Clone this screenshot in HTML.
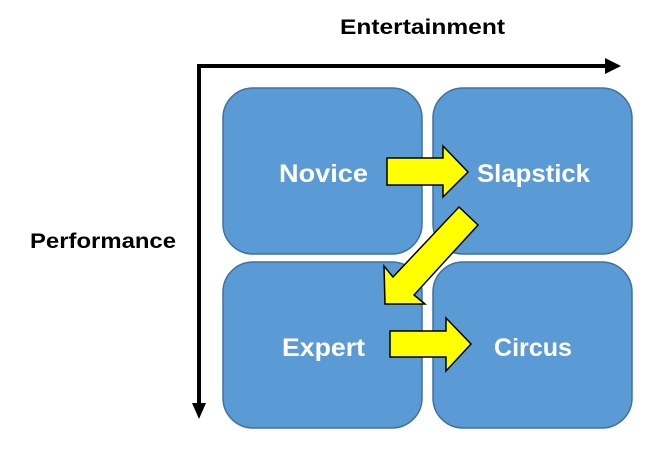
<!DOCTYPE html>
<html><head><style>
body{margin:0;width:665px;height:460px;background:#fff;overflow:hidden}
</style></head><body>
<svg width="665" height="460" xmlns="http://www.w3.org/2000/svg" font-family="'Liberation Sans', sans-serif" font-weight="bold">
<text x="340" y="34" font-size="21" textLength="165" lengthAdjust="spacingAndGlyphs" fill="#000">Entertainment</text>
<text x="30" y="248" font-size="21" textLength="146" lengthAdjust="spacingAndGlyphs" fill="#000">Performance</text>
<line x1="197" y1="66" x2="607" y2="66" stroke="#000" stroke-width="4"/>
<polygon points="605,58 621,66 605,74" fill="#000"/>
<line x1="199" y1="64" x2="199" y2="405" stroke="#000" stroke-width="4"/>
<polygon points="192,403 199,419 206,403" fill="#000"/>
<g fill="#5b9bd5" stroke="#41719c" stroke-width="1.5">
<rect x="223" y="88" width="199" height="166" rx="30"/>
<rect x="433" y="88" width="199" height="166" rx="30"/>
<rect x="223" y="262" width="199" height="166" rx="30"/>
<rect x="433" y="262" width="199" height="166" rx="30"/>
</g>
<g fill="#fff" font-size="25">
<text x="279" y="182" textLength="89" lengthAdjust="spacingAndGlyphs">Novice</text>
<text x="477" y="182" textLength="113" lengthAdjust="spacingAndGlyphs">Slapstick</text>
<text x="282" y="356" textLength="83" lengthAdjust="spacingAndGlyphs">Expert</text>
<text x="494" y="356" textLength="78" lengthAdjust="spacingAndGlyphs">Circus</text>
</g>
<g fill="#ffff00" stroke="#000" stroke-width="1.5">
<polygon points="387,158 443,158 443,146 468,172 443,197 443,185 387,185"/>
<polygon points="390,331 446,331 446,318 471,344 446,371 446,357 390,357"/>
<polygon points="459,207 478,225 414,295 425,304 385,304 384,266 393,277"/>
</g>
</svg>
</body></html>
